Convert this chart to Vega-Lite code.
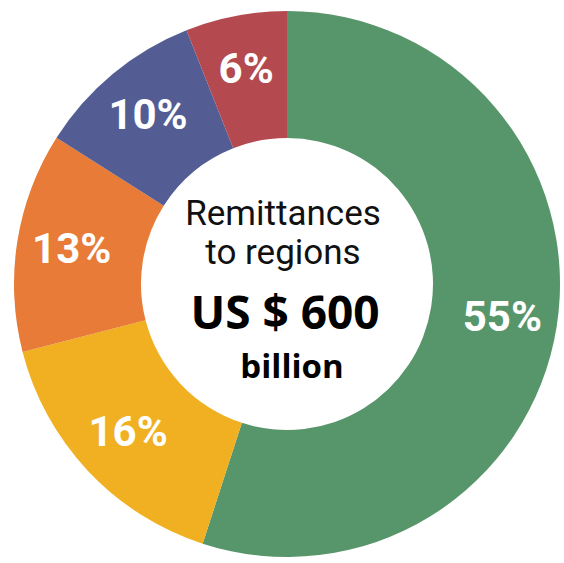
{
  "$schema": "https://vega.github.io/schema/vega-lite/v6.json",
  "autosize": "none",
  "width": 554,
  "height": 558,
  "padding": {"left": 10, "top": 5, "right": 0, "bottom": 0},
  "background": "white",
  "view": {"stroke": null},
  "datasets": {
    "shares": [
      {"idx": 1, "region": "A", "share": 55, "label": "55%"},
      {"idx": 2, "region": "B", "share": 16, "label": "16%"},
      {"idx": 3, "region": "C", "share": 13, "label": "13%"},
      {"idx": 4, "region": "D", "share": 10, "label": "10%"},
      {"idx": 5, "region": "E", "share": 6, "label": "6%"}
    ]
  },
  "layer": [
    {
      "data": {"name": "shares"},
      "mark": {"type": "arc", "outerRadius": 273, "innerRadius": 146},
      "encoding": {
        "theta": {"field": "share", "type": "quantitative", "stack": true},
        "order": {"field": "idx", "type": "quantitative"},
        "color": {
          "field": "region",
          "type": "nominal",
          "scale": {"domain": ["A", "B", "C", "D", "E"], "range": ["#57966A", "#F0B021", "#E77B37", "#535D93", "#B4494F"]},
          "legend": null
        }
      }
    },
    {
      "data": {"name": "shares"},
      "mark": {"type": "text", "radius": 218, "font": "Roboto", "fontSize": 42, "fontWeight": "bold", "fill": "white", "baseline": "middle", "align": "center"},
      "encoding": {
        "theta": {"field": "share", "type": "quantitative", "stack": true},
        "order": {"field": "idx", "type": "quantitative"},
        "text": {"field": "label"}
      }
    },
    {
      "data": {"values": [{"t": "Remittances", "o": -70}, {"t": "to regions", "o": -31}]},
      "mark": {"type": "text", "font": "Roboto", "fontSize": 35, "fill": "#111111", "baseline": "middle", "align": "center", "dx": -4, "dy": {"expr": "datum.o"}},
      "encoding": {"text": {"field": "t"}}
    },
    {
      "data": {"values": [{"t": "US $ 600"}]},
      "mark": {"type": "text", "font": "Open Sans", "fontSize": 46, "fontWeight": "bold", "fill": "black", "baseline": "middle", "align": "center", "dx": -2, "dy": 31},
      "encoding": {"text": {"field": "t"}}
    },
    {
      "data": {"values": [{"t": "billion"}]},
      "mark": {"type": "text", "font": "Open Sans", "fontSize": 33, "fontWeight": "bold", "fill": "black", "baseline": "middle", "align": "center", "dx": 5, "dy": 84},
      "encoding": {"text": {"field": "t"}}
    }
  ]
}
